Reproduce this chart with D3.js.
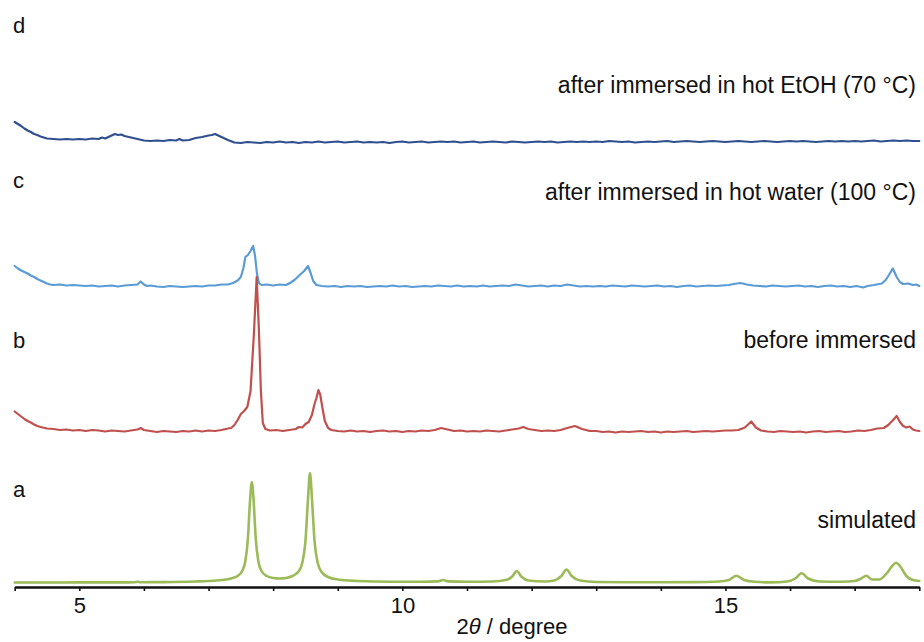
<!DOCTYPE html>
<html>
<head>
<meta charset="utf-8">
<script src="https://cdn.jsdelivr.net/npm/d3@7"></script>
<style>
  html, body { margin: 0; padding: 0; background: #fff; }
  svg { display: block; font-family: "Liberation Sans", Arial, sans-serif; }
</style>
</head>
<body>
<svg id="chart" width="924" height="642"></svg>
<script>
// PXRD patterns, [2θ (degree), intensity (a.u.)], stacked with a vertical offset each.

// a: simulated pattern
const simulated = [
  [4.0,0.5],[4.5,0.5],[5.0,0.6],[5.5,0.6],[5.85,0.7],[5.9,1.2],[5.95,0.8],[6.3,0.9],[6.8,1.5],
  [7.0,2],[7.2,3],[7.35,4.5],[7.45,7],[7.52,12],[7.57,22],[7.61,45],[7.64,80],[7.67,101],
  [7.70,80],[7.73,45],[7.77,22],[7.82,12],[7.9,7],[8.0,5],[8.1,4.5],[8.2,5],[8.3,7],[8.4,12],
  [8.45,20],[8.5,42],[8.54,85],[8.57,110],[8.60,85],[8.64,42],[8.69,20],[8.75,11],[8.85,6],
  [9.0,3.5],[9.3,2],[9.8,1.2],[10.3,1.2],[10.55,1.6],[10.63,3],[10.71,1.6],[11.0,1.2],[11.4,1.5],
  [11.6,3],[11.7,6.5],[11.77,12],[11.84,6.5],[11.95,2.5],[12.2,1.5],[12.35,2.5],[12.46,7],
  [12.54,13.5],[12.62,7],[12.75,2.5],[13.0,1],[13.5,0.8],[14.0,0.8],[14.5,0.9],[14.9,1.5],
  [15.05,3],[15.17,7.3],[15.29,3],[15.45,1.2],[15.7,0.6],[15.95,1.5],[16.08,4.5],[16.18,9.7],
  [16.28,4.5],[16.45,1.5],[16.8,1.2],[17.0,2],[17.1,4.5],[17.18,7.3],[17.27,3.5],[17.38,3.5],
  [17.5,10],[17.58,17],[17.64,20.3],[17.7,17],[17.8,7],[17.9,3],[18.0,2]
];

// b: as-synthesized sample
const beforeImmersed = [
  [4.0,19.5],[4.05,17],[4.1,14.5],[4.15,12],[4.2,10],[4.25,8.5],[4.3,6.5],[4.35,5],[4.4,4],
  [4.5,2.5],[4.6,2],[4.7,1],[4.8,1.5],[4.9,0.5],[5.0,1],[5.1,0],[5.2,1],[5.3,0.5],[5.4,-0.5],
  [5.5,0.5],[5.6,0],[5.7,-0.5],[5.8,0.5],[5.9,1.5],[5.95,3],[6.0,1],[6.1,0],[6.2,-1],[6.3,0],
  [6.4,-0.5],[6.5,-1],[6.6,0],[6.7,-0.5],[6.8,0.5],[6.9,-0.5],[7.0,0.5],[7.1,0],[7.2,1],
  [7.3,2.5],[7.35,3],[7.4,6],[7.45,11],[7.5,17],[7.55,20],[7.6,24],[7.65,40],[7.7,95],
  [7.745,154],[7.78,100],[7.81,40],[7.84,8],[7.88,2],[7.95,0.5],[8.05,1],[8.15,0],[8.25,1],
  [8.35,2],[8.4,4],[8.45,3.5],[8.5,7],[8.55,9],[8.6,16],[8.64,27],[8.67,33],[8.70,41],
  [8.73,36],[8.76,24],[8.80,10],[8.85,3],[8.9,1],[9.0,0],[9.1,-0.5],[9.2,0.5],[9.3,-0.5],
  [9.4,0],[9.5,-1],[9.6,0],[9.7,0.5],[9.8,-0.5],[9.9,0],[10.0,-1],[10.1,0],[10.2,-0.5],
  [10.3,0.5],[10.4,0],[10.5,1],[10.6,3],[10.7,1.5],[10.8,0],[10.9,0.5],[11.0,-0.5],[11.1,0],
  [11.2,-0.5],[11.3,0.5],[11.4,0],[11.5,-0.5],[11.6,0.5],[11.7,1.5],[11.8,2.5],[11.87,4],
  [11.95,2],[12.05,1],[12.15,0],[12.25,0.5],[12.35,0],[12.45,1],[12.55,3],[12.67,5],[12.78,2],
  [12.9,0],[13.0,0],[13.1,-1],[13.2,-0.5],[13.3,-1.5],[13.4,-0.5],[13.5,-1],[13.6,-0.5],
  [13.7,0],[13.8,-1],[13.9,-0.5],[14.0,-1.5],[14.1,-0.5],[14.2,-1],[14.3,-0.5],[14.4,0],
  [14.5,-1],[14.6,-0.5],[14.7,0],[14.8,-0.5],[14.9,0],[15.0,0.5],[15.1,0.5],[15.2,1],
  [15.3,3.5],[15.4,9.5],[15.47,3.5],[15.55,0.5],[15.65,-0.5],[15.75,-1],[15.85,0],[15.95,-0.5],
  [16.05,-1],[16.15,-0.5],[16.25,-1.5],[16.35,-0.5],[16.45,0],[16.55,-1],[16.65,-0.5],
  [16.75,0],[16.85,-1],[16.95,-0.5],[17.05,0.5],[17.15,0],[17.25,1],[17.35,2.5],[17.45,3],
  [17.52,6],[17.58,10],[17.65,15],[17.7,9],[17.75,5],[17.8,3.5],[17.85,4.5],[17.9,1.5],
  [17.95,0.5],[18.0,0]
];

// c: after immersion in hot water (100 °C)
const hotWater = [
  [4.0,20],[4.05,17.5],[4.1,15.5],[4.15,14],[4.2,12.5],[4.25,10.5],[4.3,9],[4.35,7],[4.4,5.5],
  [4.45,4],[4.5,2.5],[4.55,1.5],[4.6,1],[4.7,1.5],[4.8,0.5],[4.9,1],[5.0,0.5],[5.1,0],[5.2,0.5],
  [5.3,-0.5],[5.4,0],[5.5,0.5],[5.6,-0.5],[5.7,0.5],[5.8,1],[5.9,1.5],[5.95,4.5],[6.0,1.5],
  [6.05,0],[6.1,0.5],[6.2,-0.5],[6.3,-1],[6.4,0],[6.5,-0.5],[6.6,-1],[6.7,-0.5],[6.8,0],
  [6.9,-0.5],[7.0,0.5],[7.1,0.5],[7.2,1.5],[7.3,1.5],[7.38,3],[7.45,5.5],[7.5,9],[7.54,18],
  [7.57,29],[7.61,31],[7.65,35],[7.69,40],[7.72,30],[7.75,12],[7.78,3],[7.82,1],[7.9,1.5],
  [8.0,0.5],[8.1,1.5],[8.2,1],[8.26,3],[8.33,6],[8.41,11],[8.48,15],[8.54,20],[8.58,13],
  [8.62,5],[8.67,1],[8.75,0],[8.85,-0.5],[8.95,0],[9.05,-1],[9.15,0],[9.25,-0.5],[9.35,0],
  [9.45,-1],[9.55,-0.5],[9.65,0],[9.75,-0.5],[9.85,0.5],[9.95,-0.5],[10.05,0],[10.15,-1],
  [10.25,-0.5],[10.35,0],[10.45,-0.5],[10.55,0.5],[10.65,0],[10.75,-0.5],[10.85,0.5],
  [10.95,-0.5],[11.05,0],[11.15,-0.5],[11.25,0.5],[11.35,-0.5],[11.45,0],[11.55,0.5],
  [11.65,0],[11.75,1.5],[11.85,0.5],[11.95,-0.5],[12.05,0],[12.15,0.5],[12.25,-0.5],
  [12.35,0.5],[12.45,0],[12.55,1.5],[12.65,0.5],[12.75,-0.5],[12.85,0],[12.95,-0.5],
  [13.05,0],[13.15,-0.5],[13.25,0.5],[13.35,0],[13.45,-0.5],[13.55,0.5],[13.65,0],
  [13.75,-0.5],[13.85,0],[13.95,0.5],[14.05,-0.5],[14.15,0],[14.25,-1],[14.35,0],[14.45,0.5],
  [14.55,-0.5],[14.65,0],[14.75,0.5],[14.85,0],[14.95,0.5],[15.05,1],[15.13,2],[15.23,3],
  [15.33,1.5],[15.43,0.5],[15.53,0],[15.63,-0.5],[15.73,0.5],[15.83,0],[15.93,-0.5],
  [16.03,0],[16.13,0.5],[16.23,-0.5],[16.33,0],[16.43,-1],[16.53,0],[16.63,0.5],[16.73,-0.5],
  [16.83,0],[16.93,-1],[17.03,0],[17.13,-1.5],[17.2,0],[17.3,1],[17.42,2.5],[17.48,6],
  [17.53,11],[17.59,17.5],[17.65,9],[17.7,4],[17.75,2],[17.83,2.5],[17.9,1],[17.95,1.5],[18.0,0]
];

// d: after immersion in hot EtOH (70 °C)
const hotEtOH = [
  [4.0,20],[4.05,18],[4.1,16],[4.15,13.5],[4.2,11.5],[4.25,10],[4.3,8],[4.35,7],[4.4,5.5],
  [4.45,4.5],[4.5,3.5],[4.6,3],[4.7,2.5],[4.8,3],[4.9,2.5],[5.0,3],[5.1,2.5],[5.2,3.5],
  [5.3,3],[5.35,4.5],[5.4,3.5],[5.45,5],[5.5,6.5],[5.55,8],[5.6,7],[5.65,7.5],[5.7,6],
  [5.8,4.5],[5.9,3],[6.0,1.5],[6.1,1],[6.2,1.5],[6.3,1],[6.4,2],[6.5,1.5],[6.55,3],[6.6,1.5],
  [6.7,2],[6.8,4],[6.9,5],[7.0,6.5],[7.05,7],[7.1,8],[7.15,6.5],[7.2,5],[7.3,2],[7.4,-0.5],
  [7.5,-1],[7.6,0],[7.7,-0.5],[7.8,-1],[7.9,0],[8.0,-0.5],[8.1,0.5],[8.2,-0.5],[8.3,0],
  [8.4,-1],[8.5,0],[8.6,-0.5],[8.7,0.5],[8.8,-0.5],[8.9,0],[9.0,0.5],[9.1,-0.5],[9.2,0],
  [9.3,0.5],[9.4,-0.5],[9.5,0],[9.6,-0.5],[9.7,0],[9.8,-1],[9.9,0],[10.0,0.5],[10.1,-0.5],
  [10.2,0],[10.3,0.5],[10.4,-0.5],[10.5,0],[10.6,0.5],[10.7,0],[10.8,0.5],[10.9,-0.5],
  [11.0,0],[11.1,0.5],[11.2,-0.5],[11.3,0],[11.4,0.5],[11.5,0],[11.6,-0.5],[11.7,0.5],
  [11.8,0],[11.9,-0.5],[12.0,0],[12.1,0.5],[12.2,0],[12.3,0.5],[12.4,-0.5],[12.5,0],
  [12.6,0.5],[12.7,0],[12.8,0.5],[12.9,0],[13.0,0.5],[13.1,0],[13.2,1],[13.3,0.5],[13.4,0],
  [13.5,0.5],[13.6,-0.5],[13.7,0],[13.8,0.5],[13.9,0],[14.0,0.5],[14.1,1],[14.2,0],
  [14.3,0.5],[14.4,1],[14.5,0.5],[14.6,0],[14.7,0.5],[14.8,1],[14.9,0.5],[15.0,0],[15.1,0.5],
  [15.2,1],[15.3,0.5],[15.4,0],[15.5,0.5],[15.6,1],[15.7,0.5],[15.8,0],[15.9,0.5],[16.0,1],
  [16.1,0.5],[16.2,1],[16.3,0.5],[16.4,0],[16.5,0.5],[16.6,1],[16.7,0.5],[16.8,1],[16.9,0.5],
  [17.0,1],[17.1,0.5],[17.2,1],[17.3,1.5],[17.4,0.5],[17.5,1],[17.6,1.5],[17.7,1],[17.8,1.5],
  [17.9,1],[18.0,1]
];

const seriesNames = ["simulated", "before immersed", "after immersed in hot water (100 °C)", "after immersed in hot EtOH (70 °C)"];
const panelLetters = ["a", "b", "c", "d"];
const offsets = [4, 156, 301, 445];
const seriesData = [simulated, beforeImmersed, hotWater, hotEtOH];
const colors = ["#9bbb59", "#c0504d", "#5b9bd5", "#2f4f8e"];
const xTicks = [4, 5, 6, 7, 8, 9, 10, 11, 12, 13, 14, 15, 16, 17, 18];
const xTickLabels = [5, 10, 15];

const svg = d3.select("#chart");
const x = d3.scaleLinear().domain([4, 18]).range([14.7, 919.3]);
const y = d3.scaleLinear().domain([0, 575]).range([587, 12]);

// traces, top pattern first so the lower ones sit over it where they cross
const order = [3, 2, 1, 0];
order.forEach(i => {
  const line = d3.line()
    .x(d => x(d[0]))
    .y(d => y(offsets[i] + d[1]))
    .curve(i === 0 ? d3.curveMonotoneX : d3.curveLinear);
  svg.append("path")
    .datum(seriesData[i])
    .attr("d", line)
    .attr("fill", "none")
    .attr("stroke", colors[i])
    .attr("stroke-width", i === 0 ? 2.6 : 2.2)
    .attr("stroke-linejoin", "round")
    .attr("stroke-linecap", "round");
});

// bottom axis
const axis = d3.axisBottom(x)
  .tickValues(xTicks)
  .tickFormat(d => xTickLabels.includes(d) ? d : "")
  .tickSize(4)
  .tickSizeOuter(0)
  .tickPadding(6);

const gx = svg.append("g")
  .attr("transform", `translate(0,${y(0)})`)
  .call(axis);
gx.select(".domain").attr("stroke", "#111").attr("stroke-width", 2.4);
gx.selectAll(".tick line").attr("stroke", "#111").attr("stroke-width", 1.6);
gx.selectAll(".tick text")
  .attr("fill", "#111")
  .style("font-size", "22px")
  .style("font-family", "'Liberation Sans', Arial, sans-serif");

// axis title
const title = svg.append("text")
  .attr("x", 512)
  .attr("y", 634)
  .attr("text-anchor", "middle")
  .attr("fill", "#111")
  .style("font-size", "22px");
title.append("tspan").text("2");
title.append("tspan").attr("font-style", "italic").text("θ");
title.append("tspan").text(" / degree");

// panel letters and sample descriptions
const letterBaselines = [497, 348, 188, 33];
const nameBaselines = [528, 348, 200, 93];

panelLetters.forEach((l, i) => {
  svg.append("text")
    .attr("x", 13)
    .attr("y", letterBaselines[i])
    .attr("fill", "#111")
    .style("font-size", "22px")
    .text(l);
  svg.append("text")
    .attr("x", 916)
    .attr("y", nameBaselines[i])
    .attr("text-anchor", "end")
    .attr("fill", "#111")
    .style("font-size", "23px")
    .text(seriesNames[i]);
});
</script>
</body>
</html>
